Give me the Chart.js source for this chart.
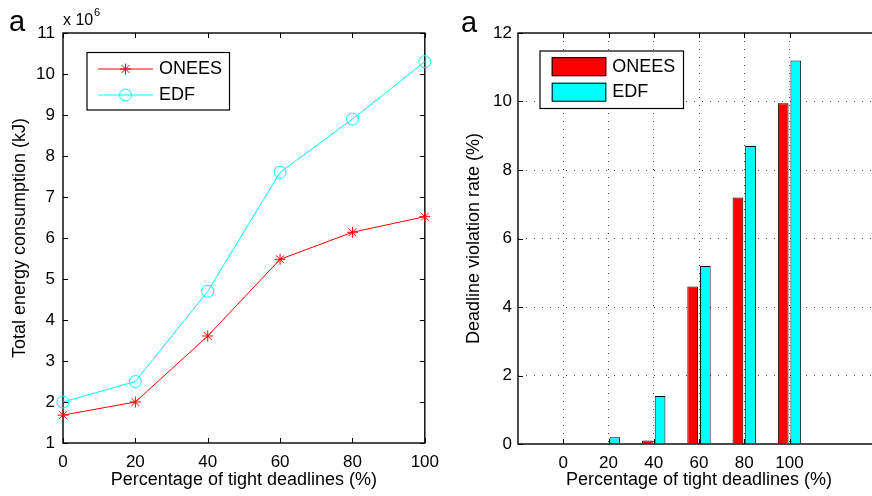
<!DOCTYPE html>
<html><head><meta charset="utf-8">
<script src="https://cdn.jsdelivr.net/npm/chart.js@4"></script>
<style>
html,body{margin:0;padding:0;background:#fff;overflow:hidden;width:872px;height:496px;}
#wrap{position:relative;width:872px;height:496px;overflow:hidden;}
.c{position:absolute;top:0;}
.lbl{position:absolute;font-family:"Liberation Sans",Arial,sans-serif;line-height:1;color:#000;white-space:nowrap;}
</style></head><body>
<div id="wrap">
<div class="c" style="left:0;width:448px;height:496px"><canvas id="c1" width="448" height="496"></canvas></div>
<div class="c" style="left:440px;width:440px;height:496px"><canvas id="c2" width="440" height="496"></canvas></div>
<div class="lbl" style="left:9px;top:7px;font-size:29px">a</div>
<div class="lbl" style="left:461px;top:8px;font-size:29px">a</div>
<div class="lbl" style="left:63px;top:11.5px;font-size:16px">x 10</div>
<div class="lbl" style="left:94px;top:6.7px;font-size:11px">6</div>
</div>
<script>
// ---- data ----
const deadlines = [0, 20, 40, 60, 80, 100];
const energyONEES = [1680000, 2000000, 3610000, 5480000, 6140000, 6520000];
const energyEDF = [2000000, 2500000, 4700000, 7600000, 8900000, 10300000];
const energyTicks = [1, 2, 3, 4, 5, 6, 7, 8, 9, 10, 11]; // x 10^6
const violationONEES = [0, 0.02, 0.1, 4.6, 7.2, 9.95];
const violationEDF = [0, 0.2, 1.4, 5.2, 8.7, 11.2];
const violationTicks = [0, 2, 4, 6, 8, 10, 12];
const seriesNames = ['ONEES', 'EDF'];

Chart.defaults.font.family = "'Liberation Sans', Arial, sans-serif";
Chart.defaults.color = '#000';

function drawMarker(ctx, style, r, x, y) {
  ctx.beginPath();
  if (style === 'star') {
    ctx.moveTo(x, y - r); ctx.lineTo(x, y + r);
    ctx.moveTo(x - r, y); ctx.lineTo(x + r, y);
    const d = r * Math.SQRT1_2;
    ctx.moveTo(x - d, y - d); ctx.lineTo(x + d, y + d);
    ctx.moveTo(x - d, y + d); ctx.lineTo(x + d, y - d);
  } else {
    ctx.arc(x, y, r, 0, Math.PI * 2);
  }
  ctx.stroke();
}

const framePlugin = {
  id: 'frame',
  beforeDatasetsDraw(chart, args, o) { if (!o.onTop) this.draw(chart, o); },
  afterDatasetsDraw(chart, args, o) { if (o.onTop) this.draw(chart, o); },
  draw(chart, o) {
    const {ctx, chartArea: a, scales: {x, y}} = chart;
    const L = 5;
    ctx.save();
    ctx.strokeStyle = '#000';
    ctx.lineWidth = 1;
    ctx.beginPath();
    x.ticks.forEach(t => {
      const px = Math.round(x.getPixelForValue(t.value)) + 0.5;
      ctx.moveTo(px, a.bottom); ctx.lineTo(px, a.bottom - L);
      ctx.moveTo(px, a.top); ctx.lineTo(px, a.top + L);
    });
    y.ticks.forEach(t => {
      const py = Math.round(y.getPixelForValue(t.value)) + 0.5;
      ctx.moveTo(a.left, py); ctx.lineTo(a.left + L, py);
      ctx.moveTo(a.right, py); ctx.lineTo(a.right - L, py);
    });
    ctx.stroke();
    ctx.lineWidth = 1.4;
    ctx.strokeRect(a.left, a.top, a.right - a.left, a.bottom - a.top);
    ctx.restore();
  }
};

const legendPlugin = {
  id: 'boxLegend',
  afterDraw(chart, args, o) {
    const ctx = chart.ctx;
    ctx.save();
    ctx.fillStyle = '#fff';
    ctx.fillRect(o.x0, o.y0, o.x1 - o.x0, o.y1 - o.y0);
    ctx.strokeStyle = '#000';
    ctx.lineWidth = 1.2;
    ctx.strokeRect(o.x0, o.y0, o.x1 - o.x0, o.y1 - o.y0);
    chart.data.datasets.forEach((ds, i) => {
      const cy = o.rows[i];
      if (o.kind === 'line') {
        ctx.strokeStyle = ds.borderColor;
        ctx.lineWidth = 1;
        ctx.beginPath(); ctx.moveTo(o.sx0, cy); ctx.lineTo(o.sx1, cy); ctx.stroke();
        drawMarker(ctx, ds.pointStyle, ds.pointRadius, (o.sx0 + o.sx1) / 2, cy);
      } else {
        const h = o.swH;
        ctx.fillStyle = ds.backgroundColor;
        ctx.fillRect(o.sx0, cy - h / 2, o.sx1 - o.sx0, h);
        ctx.strokeStyle = '#000';
        ctx.lineWidth = 1;
        ctx.strokeRect(o.sx0 + 0.5, cy - h / 2 + 0.5, o.sx1 - o.sx0 - 1, h - 1);
      }
      ctx.fillStyle = '#000';
      ctx.font = "18px 'Liberation Sans', Arial, sans-serif";
      ctx.textAlign = 'left';
      ctx.textBaseline = 'middle';
      ctx.fillText(ds.label, o.tx, cy);
    });
    ctx.restore();
  }
};

const tickFont = {size: 17};
const titleFont = {size: 18};

// ---- left: energy line chart ----
new Chart(document.getElementById('c1'), {
  type: 'line',
  data: {
    datasets: [
      {
        label: seriesNames[0],
        data: deadlines.map((d, i) => ({x: d, y: energyONEES[i]})),
        borderColor: '#ff0000', borderWidth: 1,
        pointStyle: 'star', pointRadius: 5.5, pointBorderColor: '#ff0000',
        pointBorderWidth: 1, pointBackgroundColor: '#ff0000', clip: false, tension: 0
      },
      {
        label: seriesNames[1],
        data: deadlines.map((d, i) => ({x: d, y: energyEDF[i]})),
        borderColor: '#00ffff', borderWidth: 1,
        pointStyle: 'circle', pointRadius: 6, pointBorderColor: '#00ffff',
        pointBorderWidth: 1, pointBackgroundColor: 'rgba(0,0,0,0)', clip: false, tension: 0
      }
    ]
  },
  options: {
    responsive: false, animation: false,
    layout: {padding: {top: 33, right: 8, left: 0, bottom: 0}},
    plugins: {
      legend: {display: false}, tooltip: {enabled: false},
      frame: {onTop: false},
      boxLegend: {kind: 'line', x0: 87, y0: 52.5, x1: 229.5, y1: 110, rows: [69, 95], sx0: 98, sx1: 153, tx: 159}
    },
    scales: {
      x: {
        type: 'linear', min: 0, max: 100,
        afterBuildTicks: s => { s.ticks = deadlines.map(v => ({value: v})); },
        afterFit: s => { s.height = 53; },
        grid: {display: false, drawTicks: false},
        border: {display: false},
        ticks: {font: tickFont, padding: 9, maxRotation: 0},
        title: {display: true, text: 'Percentage of tight deadlines (%)', font: titleFont, padding: {top: 0, bottom: 5}}
      },
      y: {
        type: 'linear', min: 1000000, max: 11000000,
        afterBuildTicks: s => { s.ticks = energyTicks.map(v => ({value: v * 1000000})); },
        afterFit: s => { s.width = 63; },
        grid: {display: false, drawTicks: false},
        border: {display: false},
        ticks: {font: tickFont, padding: 8, callback: v => String(v / 1000000)},
        title: {display: true, text: 'Total energy consumption (kJ)', font: titleFont, padding: {top: 9, bottom: 0}}
      }
    }
  },
  plugins: [framePlugin, legendPlugin]
});

// ---- right: deadline violation bar chart ----
new Chart(document.getElementById('c2'), {
  type: 'bar',
  data: {
    datasets: [
      {
        label: seriesNames[0],
        data: deadlines.map((d, i) => ({x: d, y: violationONEES[i]})),
        backgroundColor: '#ff0000', borderColor: '#000', borderWidth: 1
      },
      {
        label: seriesNames[1],
        data: deadlines.map((d, i) => ({x: d, y: violationEDF[i]})),
        backgroundColor: '#00ffff', borderColor: '#000', borderWidth: 1
      }
    ]
  },
  options: {
    responsive: false, animation: false,
    datasets: {bar: {categoryPercentage: 0.5575, barPercentage: 0.85}},
    layout: {padding: {top: 33, right: 0, left: 0, bottom: 0}},
    plugins: {
      legend: {display: false}, tooltip: {enabled: false},
      frame: {onTop: true},
      boxLegend: {kind: 'bar', x0: 100, y0: 51, x1: 243.5, y1: 108.5, rows: [66.7, 92.2], sx0: 111.7, sx1: 166.3, swH: 19, tx: 172.3}
    },
    scales: {
      x: {
        type: 'linear', min: -20, max: 140, offset: false,
        afterBuildTicks: s => { s.ticks = deadlines.map(v => ({value: v})); },
        afterFit: s => { s.height = 52; },
        grid: {display: true, offset: false, drawTicks: false, color: '#444', lineWidth: 1},
        border: {display: false, dash: [1, 7]},
        ticks: {font: tickFont, padding: 9, maxRotation: 0},
        title: {display: true, text: 'Percentage of tight deadlines (%)', font: titleFont, padding: {top: 0, bottom: 5}}
      },
      y: {
        type: 'linear', min: 0, max: 12,
        afterBuildTicks: s => { s.ticks = violationTicks.map(v => ({value: v})); },
        afterFit: s => { s.width = 78; },
        grid: {
          display: true, drawTicks: false, lineWidth: 1,
          color: c => (c.tick && (c.tick.value === 0 || c.tick.value === 12)) ? 'rgba(0,0,0,0)' : '#444'
        },
        border: {display: false, dash: [1, 7]},
        ticks: {font: tickFont, padding: 6},
        title: {display: true, text: 'Deadline violation rate (%)', font: titleFont, padding: {top: 23, bottom: 0}}
      }
    }
  },
  plugins: [framePlugin, legendPlugin]
});
</script>
</body></html>
